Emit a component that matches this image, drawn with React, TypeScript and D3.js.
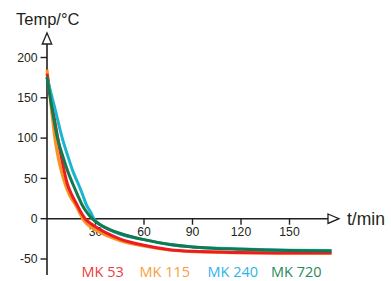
import * as d3 from "d3";

// curves: [t in min, temperature in °C]
const mk53 = [
  [0, 180], [3, 142], [6.2, 105], [9.5, 70], [12.6, 43], [15.5, 29], [18.4, 18],
  [21, 8], [23.6, 0], [27, -6], [30, -10], [36, -17], [45, -25], [60, -33],
  [76, -38.5], [90, -40.5], [120, -42], [150, -42.5], [176, -42.5],
];
const mk115 = [
  [0, 185], [2.5, 140], [5, 98], [8, 66], [11.2, 43], [14, 29], [17.4, 18],
  [20, 8], [22, 0], [25, -7], [30, -14], [36, -20], [45, -27], [60, -34],
  [76, -39], [90, -41], [120, -42.5], [150, -43], [176, -43],
];
const mk240 = [
  [0, 175], [5, 136], [9.7, 98], [13, 77], [16, 59], [19.4, 43], [22, 30],
  [24.2, 18], [27, 8], [29, 0], [32, -6], [37, -12], [45, -19], [60, -26],
  [76, -32], [90, -35], [120, -37.5], [150, -39], [176, -39.5],
];
const mk720 = [
  [0, 176], [3, 138], [6.5, 100], [10, 76], [13, 58], [16, 43], [19, 29],
  [21.5, 18], [25, 7], [28, 0], [31, -5], [36, -11], [45, -18], [60, -26],
  [76, -32], [90, -35], [120, -38], [150, -39.5], [176, -40],
];

const seriesNames = ["MK 53", "MK 115", "MK 240", "MK 720"];
const seriesData = [mk53, mk115, mk240, mk720];
const lineColors = ["#ed1c24", "#f7941d", "#1cb5cf", "#127a4e"];
const textColors = ["#ef3a40", "#f7a03c", "#2cb4e8", "#2a8a5c"];
const legendX = [81.5, 139.5, 207.5, 271];
// drawing order: orange under red, cyan under green
const drawOrder = [1, 0, 2, 3];

const xTicks = [30, 60, 90, 120, 150];
const yTicks = [200, 150, 100, 50, 0, -50];

const W = 391;
const H = 281;
const axisColor = "#231f20";

const x = d3.scaleLinear().domain([0, 150]).range([47, 289.5]);
const y = d3.scaleLinear().domain([-50, 200]).range([259, 57.5]);

const line = d3
  .line<number[]>()
  .x((d) => x(d[0]))
  .y((d) => y(d[1]))
  .curve(d3.curveMonotoneX);

export default function App() {
  const x0 = x(0);
  const y0 = y(0);
  const yTop = 44;
  const xEnd = 328;

  return (
    <svg
      width={W}
      height={H}
      style={{ position: "absolute", left: 0, top: 0, background: "#fff" }}
    >
      {/* title */}
      <text x={16} y={25} fontFamily="Liberation Sans, Arial, sans-serif" fontSize={16.5} fill={axisColor}>
        Temp/°C
      </text>
      <text x={347} y={225} fontFamily="Liberation Sans, Arial, sans-serif" fontSize={17.5} fill={axisColor}>
        t/min
      </text>

      {/* y ticks */}
      {yTicks.map((t) => (
        <g key={t}>
          <line x1={x0 - 6.5} x2={x0} y1={y(t)} y2={y(t)} stroke={axisColor} strokeWidth={1.4} />
          <text
            x={x0 - 9.5}
            y={y(t)}
            dy="0.35em"
            textAnchor="end"
            fontFamily="Liberation Sans, Arial, sans-serif"
            fontSize={12.2}
            fill={axisColor}
          >
            {t}
          </text>
        </g>
      ))}

      {/* x ticks */}
      {xTicks.map((t) => (
        <g key={t}>
          <line x1={x(t)} x2={x(t)} y1={y0} y2={y0 + 6} stroke={axisColor} strokeWidth={1.4} />
          <text
            x={x(t)}
            y={y0 + 17.5}
            textAnchor="middle"
            fontFamily="Liberation Sans, Arial, sans-serif"
            fontSize={12.2}
            fill={axisColor}
          >
            {t}
          </text>
        </g>
      ))}

      {/* axes */}
      <line x1={x0} x2={x0} y1={275} y2={yTop} stroke={axisColor} strokeWidth={1.6} />
      <path
        d={`M${x0 - 4.7},${yTop} L${x0},${yTop - 11} L${x0 + 4.7},${yTop} Z`}
        fill="#fff"
        stroke={axisColor}
        strokeWidth={1.3}
      />
      <line x1={x0} x2={xEnd} y1={y0} y2={y0} stroke={axisColor} strokeWidth={1.6} />
      <path
        d={`M${xEnd},${y0 - 4.7} L${xEnd + 11},${y0} L${xEnd},${y0 + 4.7} Z`}
        fill="#fff"
        stroke={axisColor}
        strokeWidth={1.3}
      />

      {/* curves */}
      {drawOrder.map((i) => (
        <path
          key={seriesNames[i]}
          d={line(seriesData[i]) ?? ""}
          fill="none"
          stroke={lineColors[i]}
          strokeWidth={3}
          strokeLinecap="butt"
        />
      ))}

      {/* legend */}
      {seriesNames.map((name, i) => (
        <text
          key={name}
          x={legendX[i]}
          y={277}
          fontFamily="Open Sans, Noto Sans, sans-serif"
          fontSize={14.5}
          fill={textColors[i]}
        >
          {name}
        </text>
      ))}
    </svg>
  );
}
